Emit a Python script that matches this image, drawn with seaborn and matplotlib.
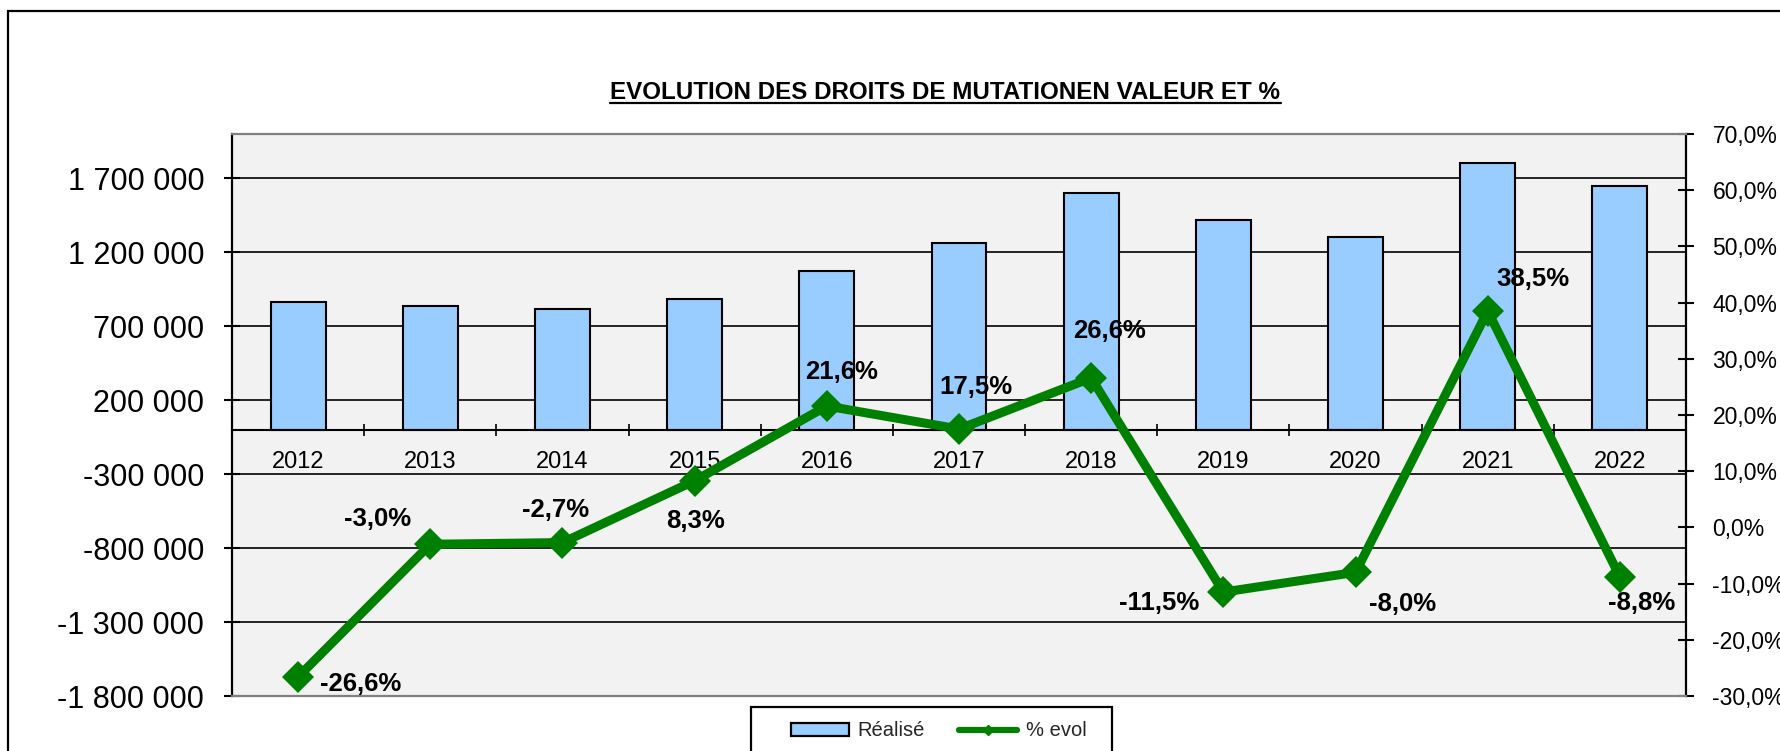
import numpy as np
import matplotlib
matplotlib.use("Agg")
import matplotlib.pyplot as plt
from matplotlib.patches import Patch, Rectangle
from matplotlib.lines import Line2D
from matplotlib.ticker import FuncFormatter, FixedLocator
import seaborn as sns

# ---- data -------------------------------------------------------------
years = ["2012", "2013", "2014", "2015", "2016", "2017",
         "2018", "2019", "2020", "2021", "2022"]
realise = [863000, 840000, 817000, 885000, 1076000, 1264000,
           1600000, 1416000, 1303000, 1805000, 1646000]
evol_pct = [-26.6, -3.0, -2.7, 8.3, 21.6, 17.5, 26.6, -11.5, -8.0, 38.5, -8.8]

left_ticks = [-1800000, -1300000, -800000, -300000, 200000,
              700000, 1200000, 1700000]
right_ticks = [-30, -20, -10, 0, 10, 20, 30, 40, 50, 60, 70]

title = "EVOLUTION DES DROITS DE MUTATIONEN VALEUR ET %"
legend_labels = ["Réalisé", "% evol"]

# label placement around each marker (pixels, x right / y up)
label_offsets = [(63, -7), (-53, 25), (-7, 33), (1, -40), (15, 34), (17, 42),
                 (18, 47), (-64, -11), (47, -32), (45, 32), (22, -26)]

# ---- style ------------------------------------------------------------
sns.set_theme(style="ticks")
plt.rcParams["font.family"] = ["Liberation Sans", "DejaVu Sans"]

BAR_COLOR = "#99CCFF"
LINE_COLOR = "#008000"
PLOT_BG = "#F2F2F2"
W, H = 1781, 751

fig = plt.figure(figsize=(W / 100, H / 100), dpi=100)
fig.patch.set_facecolor("white")
ax = fig.add_axes([232 / W, 1 - 696 / H, (1686 - 232) / W, (696 - 134) / H])
ax.set_facecolor(PLOT_BG)

# ---- bars (left axis) -------------------------------------------------
sns.barplot(x=years, y=realise, ax=ax, color=BAR_COLOR, saturation=1,
            width=0.415, edgecolor="black", linewidth=1.5, zorder=2)
ax.set_xlim(-0.5, len(years) - 0.5)
ax.set_ylim(-1800000, 2000000)
ax.yaxis.set_major_locator(FixedLocator(left_ticks))
ax.yaxis.set_major_formatter(
    FuncFormatter(lambda v, p: f"{v:,.0f}".replace(",", " ")))
ax.set_axisbelow(True)
ax.yaxis.grid(True, color="black", linewidth=1.2)
ax.xaxis.grid(False)
ax.tick_params(axis="y", direction="inout", length=12, width=1.5,
               labelsize=22, pad=14, colors="black")

# category axis sits on the zero line
ax.spines["bottom"].set_position(("data", 0))
ax.spines["bottom"].set_color("black")
ax.spines["bottom"].set_linewidth(1.5)
ax.spines["left"].set_color("black")
ax.spines["left"].set_linewidth(1.6)
ax.spines["top"].set_visible(False)
ax.spines["right"].set_visible(False)
ax.set_xticks(range(len(years)))
ax.set_xticklabels(years)
ax.set_xticks(np.arange(0.5, len(years) - 1, 1.0), minor=True)
ax.tick_params(axis="x", which="major", length=0, labelsize=17, pad=15,
               colors="black")
ax.tick_params(axis="x", which="minor", direction="inout", length=9,
               width=1.2, colors="black")
ax.set_xlabel("")
ax.set_ylabel("")

# ---- percentage line (right axis) -------------------------------------
ax2 = ax.twinx()
sns.lineplot(x=np.arange(len(years)), y=evol_pct, ax=ax2, color=LINE_COLOR,
             linewidth=6.5, marker="D", markersize=16, markeredgewidth=0,
             zorder=5)
ax2.set_ylim(-30, 70)
ax2.yaxis.set_major_locator(FixedLocator(right_ticks))
ax2.yaxis.set_major_formatter(
    FuncFormatter(lambda v, p: f"{v:.1f}%".replace(".", ",")))
ax2.tick_params(axis="y", direction="inout", length=12, width=1.5,
                labelsize=16.5, pad=13, colors="black")
ax2.spines["left"].set_visible(False)
ax2.spines["right"].set_color("black")
ax2.spines["right"].set_linewidth(1.6)
for side in ("top", "bottom"):
    ax2.spines[side].set_color("#808080")
    ax2.spines[side].set_linewidth(1.6)
ax2.set_ylabel("")
ax2.set_xlabel("")

for i, (v, (dx, dy)) in enumerate(zip(evol_pct, label_offsets)):
    ax2.annotate(f"{v:.1f}%".replace(".", ","), xy=(i, v),
                 xytext=(dx, dy), textcoords="offset pixels",
                 ha="center", va="center", fontsize=18.5, fontweight="bold",
                 color="black", zorder=6)

# ---- title with underline ---------------------------------------------
t = fig.text(945.5 / W, 1 - 99 / H, title, ha="center", va="baseline",
             fontsize=17.4, fontweight="bold", color="black")
fig.canvas.draw()
bb = t.get_window_extent()
y_ul = (H - 103)
fig.add_artist(Line2D([bb.x0, bb.x1], [y_ul, y_ul], transform=None,
                      color="black", linewidth=1.6))

# ---- legend ------------------------------------------------------------
fig.add_artist(Rectangle((751 / W, -0.2), (1112 - 751) / W,
                         (1 - 707 / H) + 0.2, transform=fig.transFigure,
                         facecolor="white", edgecolor="black",
                         linewidth=1.6, clip_on=False, zorder=3))
handles = [Patch(facecolor=BAR_COLOR, edgecolor="black", linewidth=1.6),
           Line2D([], [], color=LINE_COLOR, linewidth=4.5, marker="D",
                  markersize=5)]
leg = fig.legend(handles, legend_labels, loc="center left",
                 bbox_to_anchor=(791 / W, 1 - 731 / H),
                 bbox_transform=fig.transFigure, ncol=2, frameon=False,
                 borderpad=0, borderaxespad=0, fontsize=14.5,
                 handlelength=2.9, handleheight=0.6, handletextpad=0.4,
                 columnspacing=1.7)
leg.set_zorder(4)

# ---- outer chart border --------------------------------------------------
fig.add_artist(Rectangle((8 / W, -0.2), 1.2, (1 - 11 / H) + 0.2,
                         transform=fig.transFigure, fill=False,
                         edgecolor="black", linewidth=1.6, clip_on=False))

fig.savefig("out.png", dpi=100)
